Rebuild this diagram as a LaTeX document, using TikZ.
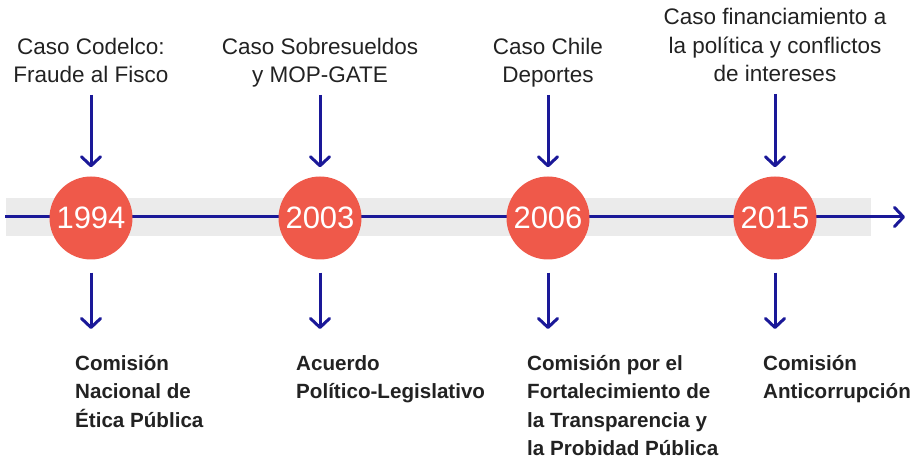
\documentclass[tikz,border=0pt]{standalone}
\usepackage{fontspec}
\setmainfont{Liberation Sans}
\usetikzlibrary{arrows.meta}
\definecolor{tlblue}{RGB}{26,24,152}
\definecolor{tlred}{RGB}{239,89,74}
\definecolor{tlgray}{RGB}{235,235,235}
\definecolor{tltext}{RGB}{34,34,34}
\newcommand{\firstrule}{\rule{0pt}{20pt}}
\newcommand{\lastrule}{\rule[-6pt]{0pt}{6pt}}
\begin{document}
\begin{tikzpicture}[x=1pt,y=-1pt,
  conn/.style={draw=tlblue,line width=3pt,-{Straight Barb[length=9pt,width=19pt,line width=3pt,round]}},
  year/.style={circle,fill=tlred,minimum size=83pt,inner sep=0pt,text=white,font=\fontsize{31}{31}\selectfont},
  toptext/.style={align=center,text=tltext,font=\fontsize{22.5}{28.4}\selectfont,inner sep=0pt,anchor=south},
  bottext/.style={align=left,text=tltext,font=\fontsize{20.6}{28.5}\selectfont\bfseries,inner sep=0pt,anchor=north west}]
\useasboundingbox (0,0) rectangle (919,462);
\fill[tlgray] (6,198) rectangle (871,236);
\coordinate (ls) at (5,217);
\coordinate (le) at (905,217);
\draw[conn] (ls) -- (le);
\node[year] (c1) at (91,218) {1994};
\node[year] (c2) at (320,218) {2003};
\node[year] (c3) at (548,218) {2006};
\node[year] (c4) at (775,218) {2015};
% top texts
\node[toptext] (t1) at (91,89) {Caso Codelco:\\Fraude al Fisco\lastrule};
\node[toptext] (t2) at (320,89) {Caso Sobresueldos\\y MOP-GATE\lastrule};
\node[toptext] (t3) at (548,89) {Caso Chile\\Deportes\lastrule};
\node[toptext] (t4) at (775,88) {Caso financiamiento a\\la política y conflictos\\de intereses\lastrule};
% bottom texts
\node[bottext] (b1) at (75,350) {\firstrule Comisión\\Nacional de\\Ética Pública};
\node[bottext] (b2) at (296,350) {\firstrule Acuerdo\\Político-Legislativo};
\node[bottext] (b3) at (527,350) {\firstrule Comisión por el\\Fortalecimiento de\\la Transparencia y\\la Probidad Pública};
\node[bottext] (b4) at (763,350) {\firstrule Comisión\\Anticorrupción};
% arrows
\foreach \i in {1,2,3,4}{
  \draw[conn] ([yshift=-6pt]t\i.south -| c\i) -- ([yshift=9pt]c\i.north);
  \draw[conn] ([yshift=-13pt]c\i.south) -- ([yshift=21pt]b\i.north -| c\i);
}
\end{tikzpicture}
\end{document}
